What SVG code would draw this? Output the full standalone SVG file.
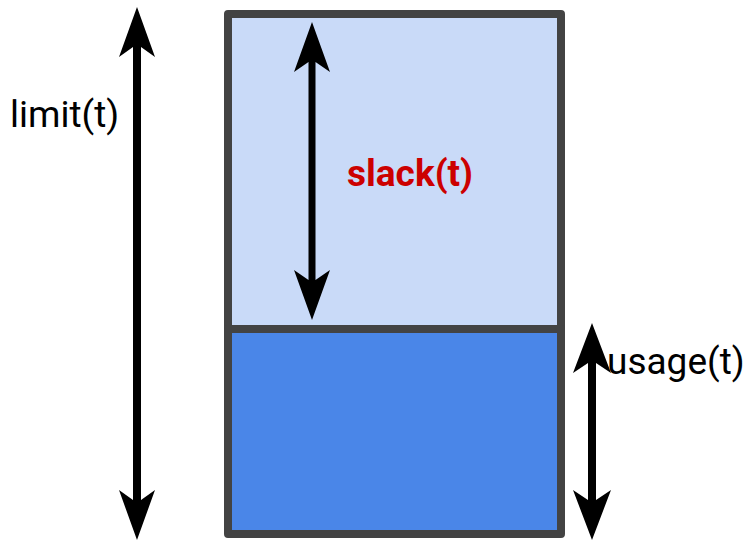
<svg xmlns="http://www.w3.org/2000/svg" width="751" height="541" viewBox="0 0 751 541">
<style>
.box{stroke:#434343;stroke-width:8;stroke-linejoin:round}
.lbl{font-family:Roboto,"Liberation Sans",sans-serif;font-size:37px;fill:#000}
.arr{fill:#000}
</style>
<rect width="751" height="541" fill="#fff"/>
<g id="slack-area"><rect class="box" x="228" y="14" width="333" height="315" fill="#c9daf8"/></g>
<g id="usage-area"><rect class="box" x="228" y="329" width="333" height="205" fill="#4a86e8"/></g>
<g id="connectors">
<path class="arr" d="M137 7 L155 57 L141 47 L141 500 L155 490 L137 540 L119 490 L133 500 L133 47 L119 57 Z"/>
<path class="arr" d="M312 22 L330 72 L315.5 62 L315.5 280 L330 270 L312 320 L294 270 L308.5 280 L308.5 62 L294 72 Z"/>
<path class="arr" d="M592 323 L611 373 L596 363 L596 500 L611 490 L592 540 L573 490 L588 500 L588 363 L573 373 Z"/>
</g>
<g id="limit-label"><text class="lbl" x="10" y="127">limit(t)</text></g>
<g id="slack-label"><text class="lbl" x="347" y="186" style="font-weight:bold;fill:#cc0000">slack(t)</text></g>
<g id="usage-label"><text class="lbl" x="607" y="374">usage(t)</text></g>
</svg>
